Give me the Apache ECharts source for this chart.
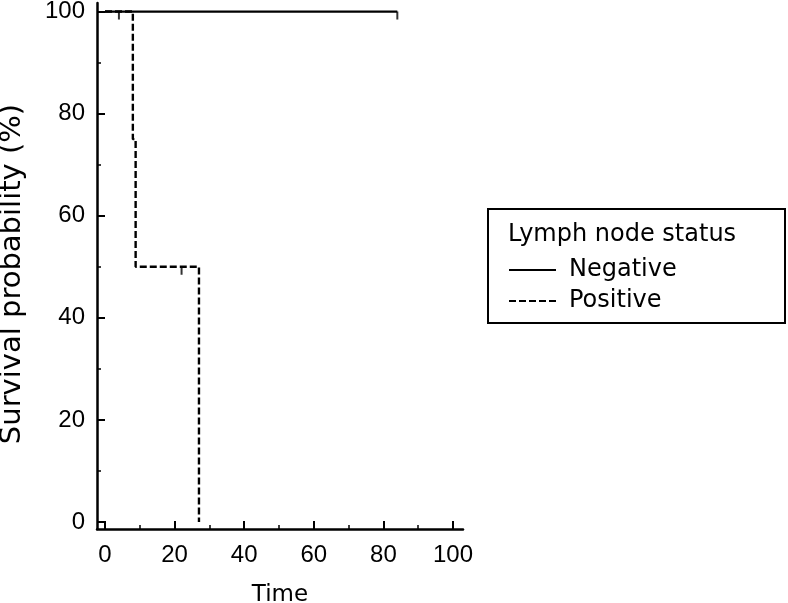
<!DOCTYPE html>
<html>
<head>
<meta charset="utf-8">
<script src="https://cdn.jsdelivr.net/npm/echarts@6/dist/echarts.min.js"></script>
<style>
html,body{margin:0;padding:0;background:#fff;}
#chart{width:788px;height:603px;}
</style>
</head>
<body>
<div id="chart"></div>
<script>
// ---- data ----
const seriesNames = ['Negative', 'Positive'];
const legendTitle = 'Lymph node status';
const xAxisTitle = 'Time';
const yAxisTitle = 'Survival probability (%)';
const negTimes = [0, 84];
const negSurv = [100, 100];
const negCensorTimes = [4, 84];
const negCensorSurv = [100, 100];
const posTimes = [0, 8, 8.8, 27];
const posSurv = [100, 75, 50, 0];
const posCensorTimes = [22];
const posCensorSurv = [50];
const xMajorTicks = [0, 20, 40, 60, 80, 100];
const xMinorTicks = [10, 30, 50, 70, 90];
const yMajorTicks = [0, 20, 40, 60, 80, 100];
const yMinorTicks = [10, 30, 50, 70, 90];

const zip = (a, b) => a.map((v, i) => [v, b[i]]);
const TICKFONT = 'Liberation Sans, Arial, sans-serif';
const TEXTFONT = 'DejaVu Sans, sans-serif';
const XMIN = -2.3, XMAX = 102.87, YMIN = -1.37, YMAX = 101.67;

const chart = echarts.init(document.getElementById('chart'), null, {renderer: 'canvas'});
const axisColor = '#000';
chart.setOption({
  animation: false,
  backgroundColor: '#fff',
  grid: {left: 97, right: 325, top: 3, bottom: 74, containLabel: false, outerBoundsMode: 'none'},
  xAxis: [{
    type: 'value', min: XMIN, max: XMAX, position: 'bottom',
    name: xAxisTitle, nameLocation: 'middle', nameGap: 55,
    nameTextStyle: {fontFamily: TEXTFONT, fontSize: 23, color: '#000'},
    axisLine: {show: true, onZero: false, lineStyle: {color: axisColor, width: 2.5}},
    axisTick: {show: true, inside: true, length: 8, customValues: xMajorTicks, lineStyle: {color: axisColor, width: 2}},
    axisLabel: {show: true, customValues: xMajorTicks, margin: 14, fontFamily: TICKFONT, fontSize: 24, color: '#000'},
    splitLine: {show: false}
  }, {
    type: 'value', min: XMIN, max: XMAX, position: 'bottom',
    axisLine: {show: false, onZero: false},
    axisTick: {show: true, inside: true, length: 4, customValues: xMinorTicks, lineStyle: {color: axisColor, width: 1.5}},
    axisLabel: {show: false},
    splitLine: {show: false}
  }],
  yAxis: [{
    type: 'value', min: YMIN, max: YMAX, position: 'left',
    name: yAxisTitle, nameLocation: 'middle', nameGap: 70, nameRotate: 90,
    nameTextStyle: {fontFamily: TEXTFONT, fontSize: 29, color: '#000', padding: [0, 16, 0, 0]},
    axisLine: {show: true, onZero: false, lineStyle: {color: axisColor, width: 2.5}},
    axisTick: {show: true, inside: true, length: 8, customValues: yMajorTicks, lineStyle: {color: axisColor, width: 2}},
    axisLabel: {show: true, customValues: yMajorTicks, margin: 12, fontFamily: TICKFONT, fontSize: 24, color: '#000'},
    splitLine: {show: false}
  }, {
    type: 'value', min: YMIN, max: YMAX, position: 'left',
    axisLine: {show: false, onZero: false},
    axisTick: {show: true, inside: true, length: 4, customValues: yMinorTicks, lineStyle: {color: axisColor, width: 1.5}},
    axisLabel: {show: false},
    splitLine: {show: false}
  }],
  legend: {
    data: seriesNames,
    orient: 'vertical',
    left: 503, top: 253,
    itemWidth: 47, itemHeight: 14, itemGap: 7,
    itemStyle: {opacity: 0},
    textStyle: {fontFamily: TEXTFONT, fontSize: 24, color: '#000', padding: [0, 0, 0, 8]},
    selectedMode: false
  },
  graphic: [
    {type: 'rect', shape: {x: 488, y: 209, width: 297, height: 114},
     style: {fill: 'none', stroke: '#000', lineWidth: 2}},
    {type: 'text', x: 508, y: 235,
     style: {text: legendTitle, fontFamily: TEXTFONT, fontSize: 24, fill: '#000', verticalAlign: 'middle'}}
  ],
  series: [
    {name: seriesNames[0], type: 'line', data: zip(negTimes, negSurv), symbol: 'none', step: 'end',
     lineStyle: {color: '#000', width: 2.2, type: 'solid'}, itemStyle: {color: '#000'}, z: 3},
    {name: seriesNames[1], type: 'line', data: zip(posTimes, posSurv), symbol: 'none', step: 'end',
     lineStyle: {color: '#000', width: 2.4, type: [7, 3]}, itemStyle: {color: '#000'}, z: 2},
    {name: 'negCensor', type: 'scatter', data: zip(negCensorTimes, negCensorSurv),
     symbol: 'rect', symbolSize: [2, 8], symbolOffset: [0, 4], itemStyle: {color: '#000'}, z: 4},
    {name: 'posCensor', type: 'scatter', data: zip(posCensorTimes, posCensorSurv),
     symbol: 'rect', symbolSize: [2, 8], symbolOffset: [0, 4], itemStyle: {color: '#000'}, z: 4}
  ]
});
</script>
</body>
</html>
